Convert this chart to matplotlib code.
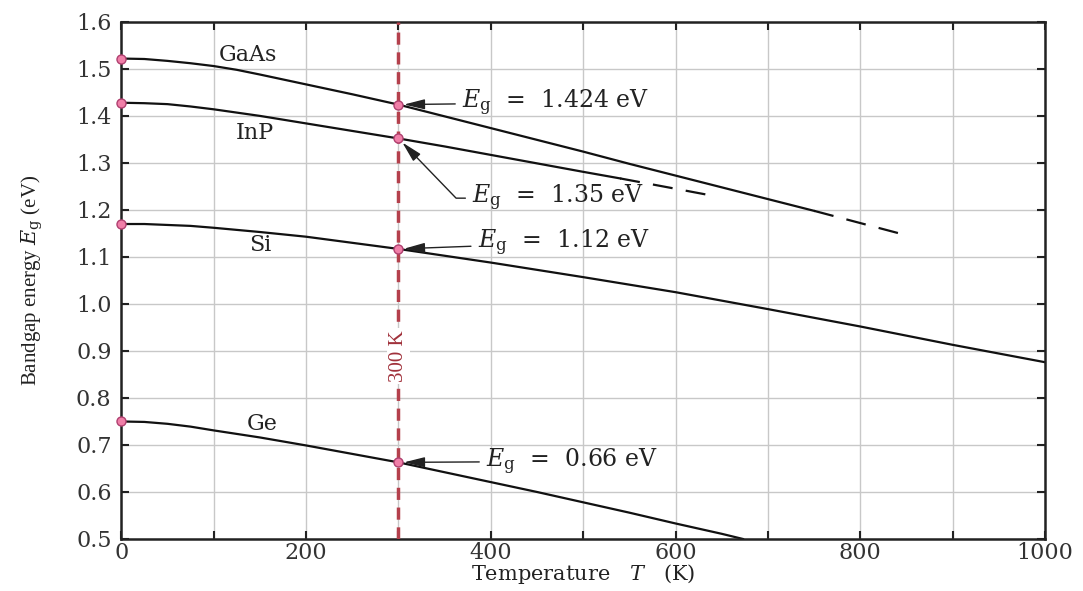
import matplotlib
matplotlib.use("Agg")
import matplotlib.pyplot as plt
from matplotlib.ticker import MultipleLocator, FormatStrFormatter

plt.rcParams['font.family'] = ['DejaVu Serif', 'Liberation Serif']
plt.rcParams['mathtext.fontset'] = 'custom'
plt.rcParams['mathtext.rm'] = 'DejaVu Serif'
plt.rcParams['mathtext.it'] = 'DejaVu Serif:italic'

# ---- data ----
T_gaas = [0, 25, 50, 75, 100, 125, 150, 200, 250, 300, 350, 400, 450, 500, 550, 600,
          650, 700, 750]
Eg_gaas = [1.522, 1.521, 1.517, 1.512, 1.506, 1.498, 1.488, 1.467, 1.446, 1.424, 1.399,
           1.374, 1.349, 1.324, 1.298, 1.273, 1.248, 1.223, 1.198]
T_gaas_ext = [750, 800, 850]
Eg_gaas_ext = [1.198, 1.172, 1.146]

T_inp = [0, 25, 50, 75, 100, 125, 150, 200, 250, 300, 350, 400, 450, 500, 540]
Eg_inp = [1.428, 1.427, 1.425, 1.420, 1.414, 1.407, 1.400, 1.384, 1.368, 1.352, 1.335,
          1.317, 1.299, 1.281, 1.267]
T_inp_ext = [540, 600, 646]
Eg_inp_ext = [1.267, 1.245, 1.228]

T_si = [0, 25, 50, 75, 100, 150, 200, 250, 300, 400, 500, 600, 700, 800, 900, 1000]
Eg_si = [1.170, 1.170, 1.168, 1.166, 1.162, 1.153, 1.143, 1.130, 1.117, 1.088, 1.057,
         1.025, 0.989, 0.952, 0.913, 0.876]

T_ge = [0, 25, 50, 75, 100, 150, 200, 250, 300, 350, 400, 450, 500, 550, 600, 650, 673]
Eg_ge = [0.750, 0.749, 0.745, 0.739, 0.731, 0.716, 0.699, 0.681, 0.663, 0.642, 0.621,
         0.600, 0.578, 0.556, 0.533, 0.511, 0.500]

marker_T = [0, 300]
marker_gaas = [1.522, 1.424]
marker_inp = [1.428, 1.352]
marker_si = [1.170, 1.117]
marker_ge = [0.750, 0.663]

material_names = ["GaAs", "InP", "Si", "Ge"]
name_pos = [(137, 1.53), (145, 1.364), (150, 1.126), (152, 0.744)]

# ---- figure ----
fig = plt.figure(figsize=(10.83, 5.91), dpi=100)
ax = fig.add_axes([0.112, 0.088, 0.853, 0.875])
ax.set_xlim(0, 1000)
ax.set_ylim(0.5, 1.6)

ax.xaxis.set_major_locator(MultipleLocator(200))
ax.xaxis.set_minor_locator(MultipleLocator(100))
ax.yaxis.set_major_locator(MultipleLocator(0.1))
ax.yaxis.set_major_formatter(FormatStrFormatter('%.1f'))
ax.grid(True, which='both', color='#c8c8c8', lw=1.0)
ax.set_axisbelow(True)
ax.tick_params(which='both', direction='in', top=True, right=True, labelsize=16,
               length=6, width=1.5, color='#222222', labelcolor='#333333')
ax.tick_params(axis='y', pad=7)
ax.tick_params(axis='x', pad=2)
for s in ax.spines.values():
    s.set_linewidth(1.8)
    s.set_color('#222222')

lc = '#111111'
lw = 1.6
ax.plot(T_gaas, Eg_gaas, color=lc, lw=lw)
ax.plot(T_gaas_ext, Eg_gaas_ext, color=lc, lw=lw, dashes=(9, 6))
ax.plot(T_inp, Eg_inp, color=lc, lw=lw)
ax.plot(T_inp_ext, Eg_inp_ext, color=lc, lw=lw, dashes=(9, 6))
ax.plot(T_si, Eg_si, color=lc, lw=lw)
ax.plot(T_ge, Eg_ge, color=lc, lw=lw)

# 300 K line
ax.axvline(300, color='#b4404c', lw=2.5, dashes=(3.5, 2.2), zorder=3)
ax.text(300, 0.889, "300 K", rotation=90, color='#a0303a', fontsize=15,
        family='Liberation Serif', ha='center', va='center', zorder=4,
        bbox=dict(facecolor='white', edgecolor='none', pad=1.5))

for ys in (marker_gaas, marker_inp, marker_si, marker_ge):
    ax.plot(marker_T, ys, linestyle='none', marker='o', markersize=6.5,
            markerfacecolor='#f07fa8', markeredgecolor='#b04070', markeredgewidth=1.0,
            zorder=6, clip_on=False)

for name, (x, y) in zip(material_names, name_pos):
    ax.text(x, y, name, fontsize=16, ha='center', va='center', color='#222222')

astyle = '-|>,head_length=0.9,head_width=0.22'
arrow = dict(arrowstyle=astyle, color='#222222', lw=1.0, mutation_scale=14,
             shrinkA=3, shrinkB=4)
fs = 17
ax.annotate(r"$E_{\rm g}$  =  1.424 eV", xy=(300, 1.424), xytext=(369, 1.428),
            fontsize=fs, va='center', ha='left', arrowprops=arrow, color='#222222')
ax.annotate(r"$E_{\rm g}$  =  1.12 eV", xy=(300, 1.117), xytext=(386, 1.13),
            fontsize=fs, va='center', ha='left', arrowprops=arrow, color='#222222')
ax.annotate(r"$E_{\rm g}$  =  0.66 eV", xy=(300, 0.663), xytext=(395, 0.665),
            fontsize=fs, va='center', ha='left', arrowprops=arrow, color='#222222')
ax.annotate(r"$E_{\rm g}$  =  1.35 eV", xy=(300, 1.352), xytext=(380, 1.225),
            fontsize=fs, va='center', ha='left', color='#222222',
            arrowprops=dict(arrowstyle=astyle, color='#222222', lw=1.0, mutation_scale=14,
                            shrinkA=3, shrinkB=4,
                            connectionstyle="angle,angleA=0,angleB=-46,rad=0"))

ax.set_xlabel(r"Temperature   $T$   (K)", fontsize=15, labelpad=-1, color='#222222')
ax.set_ylabel(r"Bandgap energy $E_{\rm g}$ (eV)", fontsize=15, labelpad=22,
              family='Liberation Serif', color='#222222')

fig.savefig("out.png", dpi=100)
